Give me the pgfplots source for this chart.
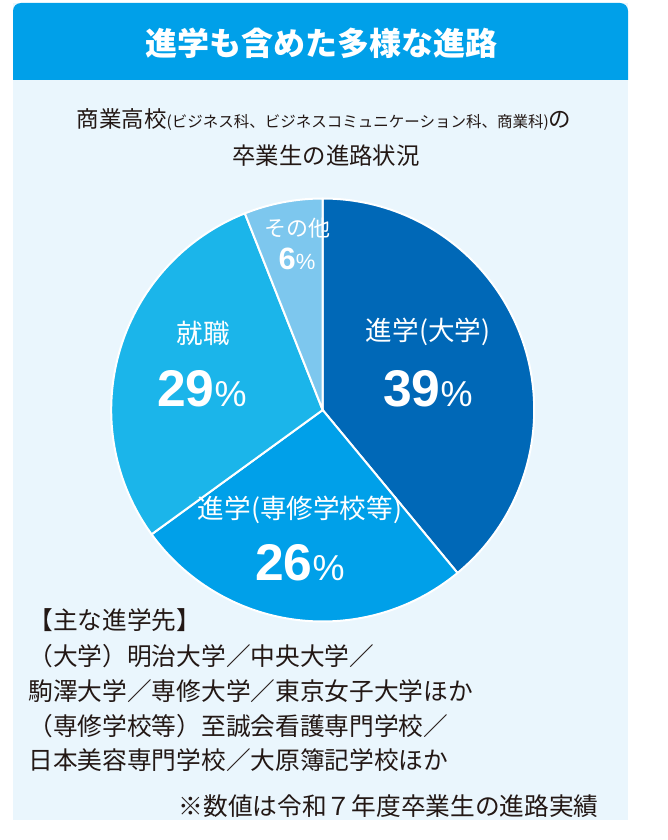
\documentclass[border=0pt]{standalone}
\usepackage{pgfplots}
\pgfplotsset{compat=1.18}
\usepackage{pgfplotstable}
\usepackage{fontspec}
\setmainfont{Noto Sans CJK JP}
\newfontfamily\numfont{Liberation Sans}
\definecolor{hdr}{HTML}{00A0E9}
\definecolor{panel}{HTML}{EAF6FD}
\definecolor{cA}{HTML}{0068B7}
\definecolor{cB}{HTML}{00A0E9}
\definecolor{cC}{HTML}{1BB5EA}
\definecolor{cD}{HTML}{7DC7EE}
\definecolor{txt}{HTML}{231815}

\pgfplotstableread{
idx value col
0 39 cA
1 26 cB
2 29 cC
3 6 cD
}\piedata

\begin{document}
\begin{tikzpicture}
\begin{scope}[x=0.5pt,y=-0.5pt]
\fill[white] (0,0) rectangle (668,840);
\fill[panel] (13,3) rectangle (628,820);
\fill[hdr] (13,80) {[rounded corners=4pt] -- (13,3) -- (628,3)} -- (628,80) -- cycle;
\node[white,font=\fontsize{16}{19}\selectfont\bfseries,inner sep=0] at (321,43) {進学も含めた多様な進路};
\node[txt,inner sep=0] at (324,120) {\fontsize{11.25}{13}\selectfont 商業高校\fontsize{7.75}{9}\selectfont(ビジネス科、ビジネスコミュニケーション科、商業科)\fontsize{11.25}{13}\selectfont の};
\node[txt,inner sep=0,font=\fontsize{11.7}{14}\selectfont] at (326,156) {卒業生の進路状況};
\end{scope}

\begin{axis}[at={(161.35pt,-205pt)}, anchor=center, scale only axis,
  width=211.5pt, height=211.5pt, xmin=-1, xmax=1, ymin=-1, ymax=1,
  hide axis, clip=false]
\xdef\piecum{0}
\pgfplotsinvokeforeach{0,1,2,3}{
  \pgfplotstablegetelem{#1}{value}\of\piedata
  \let\pieval\pgfplotsretval
  \pgfplotstablegetelem{#1}{col}\of\piedata
  \let\piecol\pgfplotsretval
  \pgfmathsetmacro\piesa{90-3.6*\piecum}
  \pgfmathsetmacro\pieea{90-3.6*(\piecum+\pieval)}
  \edef\temp{\noexpand\fill[\piecol, draw=white, line width=1pt, line join=round] (axis cs:0,0) -- (axis cs:{cos(\piesa)},{sin(\piesa)}) arc[start angle=\piesa, end angle=\pieea, radius=105.75pt] -- cycle;}
  \temp
  \pgfmathsetmacro\piecumn{\piecum+\pieval}
  \xdef\piecum{\piecumn}
}
\end{axis}

\begin{scope}[x=0.5pt,y=-0.5pt]
% pie labels
\node[white,inner sep=0,font=\fontsize{13.3}{15}\selectfont] at (428,332) {進学(大学)};
\node[white,inner sep=0] at (428,389) {\numfont\bfseries\fontsize{25.8}{30}\selectfont 39\fontsize{18}{20}\selectfont\mdseries\%};
\node[white,inner sep=0,font=\fontsize{13.3}{15}\selectfont] at (203,333) {就職};
\node[white,inner sep=0] at (202,389) {\numfont\bfseries\fontsize{25.8}{30}\selectfont 29\fontsize{18}{20}\selectfont\mdseries\%};
\node[white,inner sep=0,font=\fontsize{11}{13}\selectfont] at (297,228) {その他};
\node[white,inner sep=0] at (297,259) {\numfont\bfseries\fontsize{15.4}{18}\selectfont 6\fontsize{11}{13}\selectfont\mdseries\%};
\node[white,inner sep=0,font=\fontsize{13.3}{15}\selectfont] at (300,510) {進学(専修学校等)};
\node[white,inner sep=0] at (300,563) {\numfont\bfseries\fontsize{25.8}{30}\selectfont 26\fontsize{18}{20}\selectfont\mdseries\%};
% footer
\begin{scope}[every node/.style={txt,inner sep=0,anchor=west,font=\fontsize{12.35}{14}\selectfont}]
\node at (28,620) {【主な進学先】};
\node at (28,656) {（大学）明治大学／中央大学／};
\node at (28,691) {駒澤大学／専修大学／東京女子大学ほか};
\node at (28,726) {（専修学校等）至誠会看護専門学校／};
\node at (28,760) {日本美容専門学校／大原簿記学校ほか};
\node[anchor=east] at (599,806) {※数値は令和７年度卒業生の進路実績};
\end{scope}
\end{scope}
\end{tikzpicture}
\end{document}
